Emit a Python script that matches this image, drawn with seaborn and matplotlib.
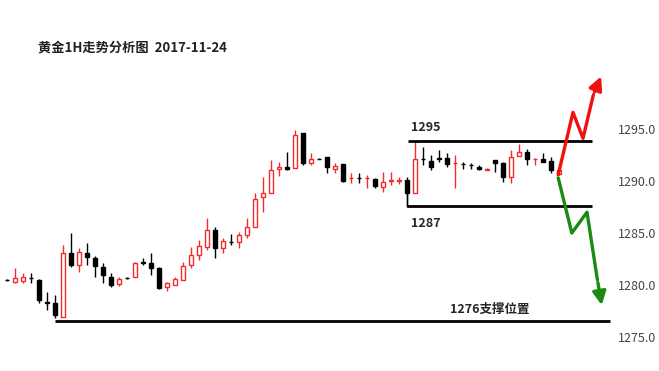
import numpy as np
import pandas as pd
import matplotlib
matplotlib.use("Agg")
import matplotlib.pyplot as plt
import seaborn as sns

sns.set_style("white")
plt.rcParams['font.family'] = ['Noto Sans CJK SC', 'DejaVu Sans']

# hourly candles (open, high, low, close)
opens = [1280.5, 1280.3, 1280.4, 1280.7, 1280.5, 1278.4, 1278.3, 1276.9, 1283.1, 1281.9,
         1283.1, 1282.6, 1281.7, 1280.8, 1280.1, 1280.7, 1280.8, 1282.2, 1282.1, 1281.6,
         1279.8, 1280.0, 1280.5, 1281.9, 1282.9, 1283.65, 1285.3, 1283.6, 1284.15, 1284.1,
         1284.8, 1285.6, 1288.5, 1288.8, 1291.2, 1291.3, 1291.25, 1294.6, 1291.7, 1292.15,
         1292.3, 1291.2, 1291.6, 1290.25, 1290.3, 1290.25, 1290.2, 1289.4, 1290.0, 1290.0,
         1290.1, 1288.85, 1292.15, 1291.9, 1292.2, 1292.2, 1291.7, 1291.65, 1291.55, 1291.35,
         1291.1, 1292.0, 1291.7, 1290.4, 1292.4, 1292.8, 1292.1, 1292.1, 1291.9, 1290.7]
highs = [1280.6, 1281.6, 1281.2, 1281.2, 1280.6, 1279.3, 1279.0, 1283.8, 1285.0, 1283.6,
         1284.0, 1282.8, 1282.1, 1281.15, 1280.8, 1280.75, 1282.2, 1282.6, 1283.1, 1281.7,
         1280.3, 1280.8, 1282.2, 1283.65, 1284.3, 1286.4, 1285.6, 1284.5, 1284.9, 1285.1,
         1286.4, 1288.85, 1290.4, 1292.0, 1291.8, 1292.8, 1294.9, 1294.6, 1292.7, 1292.2,
         1292.3, 1291.7, 1291.6, 1290.8, 1290.8, 1290.6, 1290.3, 1290.9, 1290.9, 1290.4,
         1290.4, 1293.85, 1293.3, 1292.5, 1293.0, 1292.7, 1292.5, 1291.8, 1291.7, 1291.5,
         1291.25, 1292.0, 1291.8, 1293.0, 1293.6, 1293.1, 1292.2, 1292.7, 1292.3, 1291.15]
lows = [1280.4, 1280.2, 1280.2, 1280.2, 1278.3, 1277.6, 1276.8, 1276.9, 1281.7, 1281.25,
        1281.9, 1280.8, 1280.2, 1279.8, 1279.9, 1280.6, 1280.8, 1281.9, 1281.0, 1279.6,
        1279.4, 1280.0, 1280.5, 1281.6, 1282.4, 1283.4, 1282.6, 1283.1, 1283.85, 1283.6,
        1284.5, 1285.6, 1287.0, 1288.8, 1290.5, 1291.05, 1291.25, 1291.5, 1291.5, 1292.1,
        1290.8, 1290.8, 1289.9, 1289.8, 1289.8, 1289.3, 1289.3, 1288.9, 1289.6, 1289.7,
        1287.5, 1288.85, 1291.5, 1291.05, 1291.8, 1291.35, 1289.3, 1291.15, 1291.15, 1291.1,
        1291.05, 1290.9, 1289.9, 1289.8, 1292.4, 1291.5, 1291.5, 1291.8, 1290.8, 1290.6]
closes = [1280.45, 1280.7, 1280.8, 1280.65, 1278.6, 1278.3, 1277.1, 1283.1, 1281.9, 1283.2,
          1282.7, 1281.8, 1281.0, 1280.0, 1280.6, 1280.65, 1282.1, 1282.1, 1281.6, 1279.7,
          1280.2, 1280.6, 1281.8, 1282.9, 1283.75, 1285.3, 1283.6, 1284.2, 1284.1, 1284.8,
          1285.6, 1288.3, 1288.85, 1291.1, 1291.3, 1291.2, 1294.4, 1291.7, 1292.1, 1292.1,
          1291.35, 1291.4, 1290.0, 1290.3, 1290.25, 1290.3, 1289.5, 1289.9, 1290.05, 1290.1,
          1288.85, 1292.1, 1292.1, 1291.35, 1292.15, 1291.6, 1291.75, 1291.6, 1291.5, 1291.15,
          1291.2, 1291.7, 1290.4, 1292.3, 1292.8, 1292.1, 1292.15, 1291.8, 1291.1, 1291.1]

df = pd.DataFrame({'open': opens, 'high': highs, 'low': lows, 'close': closes})
df['bar'] = np.arange(len(df))

# range lines and scenario paths (bar index, price)
range_top = 1293.8
range_bottom = 1287.6
support = 1276.5
up_bars = [68.9, 70.75, 72.0, 73.3]
up_prices = [1290.6, 1296.6, 1294.1, 1298.3]
up_tip = (74.4, 1300.3)
down_bars = [68.9, 70.6, 72.5, 73.8]
down_prices = [1290.3, 1285.0, 1287.0, 1280.5]
down_tip = (74.4, 1277.8)
yticks = [1275.0, 1280.0, 1285.0, 1290.0, 1295.0]

fig = plt.figure(figsize=(6.59, 3.71), dpi=100)
ax = fig.add_axes([0, 0.0296, 612 / 659, 0.8086])

w = 0.62
for _, r in df.iterrows():
    i = r['bar']
    up = r['close'] >= r['open']
    col = '#f52a2a' if up else 'black'
    lo_body, hi_body = sorted([r['open'], r['close']])
    ax.vlines(i, r['low'], lo_body, color=col, lw=1.0, zorder=2)
    ax.vlines(i, hi_body, r['high'], color=col, lw=1.0, zorder=2)
    h = max(hi_body - lo_body, 0.06)
    ax.add_patch(plt.Rectangle((i - w / 2, lo_body), w, h,
                               facecolor='white' if up else 'black',
                               edgecolor=col, lw=1.0, zorder=3))

ax.hlines(range_top, 50.1, 73.1, color='black', lw=2.0, zorder=4)
ax.hlines(range_bottom, 50.0, 73.1, color='black', lw=2.0, zorder=4)
ax.vlines(50.0, range_bottom, 1289.0, color='black', lw=1.0, zorder=4)
ax.hlines(support, 6.0, 75.4, color='black', lw=2.0, zorder=4)

sns.lineplot(x=up_bars, y=up_prices, ax=ax, color='#f01010', lw=2.4, sort=False, zorder=5)
sns.lineplot(x=down_bars, y=down_prices, ax=ax, color='#1a8a12', lw=2.4, sort=False, zorder=5)
ax.annotate('', xy=up_tip, xytext=(up_bars[-1], up_prices[-1]),
            arrowprops=dict(arrowstyle='-|>,head_length=0.8,head_width=0.4', color='#f01010', lw=2.4))
ax.annotate('', xy=down_tip, xytext=(down_bars[-1], down_prices[-1]),
            arrowprops=dict(arrowstyle='-|>,head_length=0.8,head_width=0.4', color='#1a8a12', lw=2.4))

ax.text(50.5, 1295.1, '1295', fontsize=9, fontweight='bold', va='center', ha='left')
ax.text(50.5, 1285.9, '1287', fontsize=9, fontweight='bold', va='center', ha='left')
ax.text(60.3, 1277.7, '1276支撑位置', fontsize=9, fontweight='bold', va='center', ha='center')

ax.set_xlim(-0.875, 75.625)
ax.set_ylim(1272.79, 1301.63)
ax.set_xticks([])
ax.yaxis.tick_right()
ax.set_yticks(yticks)
ax.set_yticklabels([f'{v:.1f}' for v in yticks])
ax.tick_params(axis='y', length=0, pad=4, labelsize=9, labelcolor='#444444')
for s in ax.spines.values():
    s.set_visible(False)

fig.text(38 / 659, 1 - 48 / 371, '黄金1H走势分析图  2017-11-24', fontsize=9.5,
         fontweight='bold', va='center', ha='left', color='#222222')

fig.savefig('out.png', dpi=100)
